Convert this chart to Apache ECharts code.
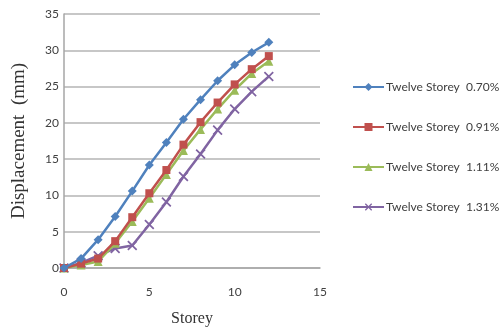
<!DOCTYPE html>
<html>
<head>
<meta charset="utf-8">
<script src="https://cdn.jsdelivr.net/npm/echarts@6/dist/echarts.min.js"></script>
<style>
  html, body { margin: 0; padding: 0; background: #ffffff; }
  #chart { width: 500px; height: 328px; }
</style>
</head>
<body>
<div id="chart"></div>
<script>
// Storey numbers along the horizontal axis
const storeys = [0, 1, 2, 3, 4, 5, 6, 7, 8, 9, 10, 11, 12];

// Lateral displacement (mm) at each storey, one array per drift ratio
const disp070 = [0, 1.3, 3.9, 7.1, 10.6, 14.2, 17.3, 20.5, 23.2, 25.8, 28.0, 29.7, 31.1];
const disp091 = [0, 0.6, 1.3, 3.7, 7.0, 10.3, 13.5, 17.0, 20.1, 22.8, 25.3, 27.4, 29.2];
const disp111 = [0, 0.4, 0.9, 3.4, 6.4, 9.6, 12.9, 16.2, 19.1, 21.9, 24.5, 26.8, 28.5];
const disp131 = [0, 0.7, 1.7, 2.7, 3.1, 6.0, 9.1, 12.6, 15.7, 19.0, 21.9, 24.3, 26.4];

const seriesNames = [
  'Twelve Storey  0.70%',
  'Twelve Storey  0.91%',
  'Twelve Storey  1.11%',
  'Twelve Storey  1.31%'
];

const colors = ['#4f81bd', '#c0504d', '#9bbb59', '#8064a2'];
const symbols = ['diamond', 'rect', 'triangle', 'image://data:image/svg+xml;utf8,' + encodeURIComponent(
  '<svg xmlns="http://www.w3.org/2000/svg" width="10" height="10"><path d="M1 1L9 9M9 1L1 9" stroke="#8064a2" stroke-width="1.6"/></svg>')];
const symbolSizes = [9, 8, 9, 11];

const allData = [disp070, disp091, disp111, disp131];

function pairs(values) {
  return storeys.map((s, i) => [s, values[i]]);
}

const chart = echarts.init(document.getElementById('chart'), null, { renderer: 'canvas' });

chart.setOption({
  backgroundColor: '#ffffff',
  animation: false,
  color: colors,
  grid: { left: 64, right: 180, top: 14, bottom: 60, containLabel: false, outerBoundsMode: 'none' },
  legend: {
    orient: 'vertical',
    left: 347,
    top: 76,
    itemWidth: 31,
    itemHeight: 10,
    itemGap: 28,
    textStyle: { fontFamily: 'Lato', fontSize: 12, color: '#404040', padding: [0, 0, 0, -3] },
    data: seriesNames
  },
  xAxis: {
    type: 'value',
    min: 0,
    max: 15,
    interval: 5,
    name: 'Storey',
    nameLocation: 'middle',
    nameGap: 43,
    nameTextStyle: { fontFamily: 'Liberation Serif', fontSize: 16, color: '#333333' },
    axisLine: { show: true, lineStyle: { color: '#a6a6a6', width: 1.5 } },
    axisTick: { show: false },
    axisLabel: { fontFamily: 'Lato', fontSize: 12, color: '#404040', margin: 18 },
    splitLine: { show: false }
  },
  yAxis: {
    type: 'value',
    min: 0,
    max: 35,
    interval: 5,
    name: 'Displacement  (mm)',
    nameLocation: 'middle',
    nameGap: 35,
    nameTextStyle: { fontFamily: 'Liberation Serif', fontSize: 19, color: '#333333' },
    axisLine: { show: true, lineStyle: { color: '#a6a6a6', width: 1.5 } },
    axisTick: { show: false },
    axisLabel: { fontFamily: 'Lato', fontSize: 12, color: '#404040', margin: 5 },
    splitLine: { show: true, lineStyle: { color: '#b4b4b4', width: 1.5 } }
  },
  series: allData.map((vals, k) => ({
    name: seriesNames[k],
    type: 'line',
    data: pairs(vals),
    symbol: symbols[k],
    symbolSize: symbolSizes[k],
    showAllSymbol: true,
    lineStyle: { width: 2.5, color: colors[k] },
    itemStyle: { color: colors[k], borderWidth: 0 },
    z: 10 - k
  }))
});
</script>
</body>
</html>
